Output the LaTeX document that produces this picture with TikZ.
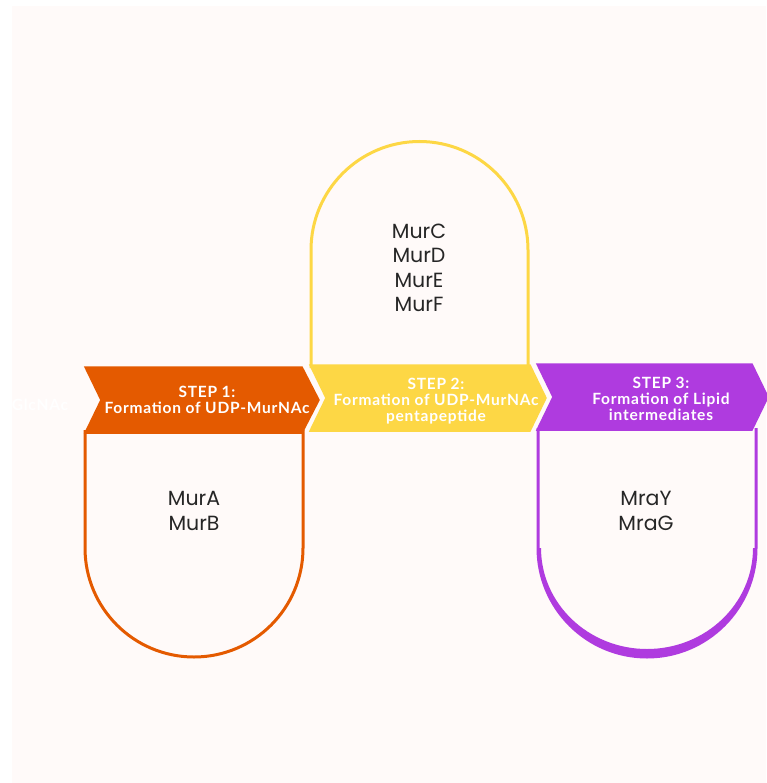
\documentclass[tikz,border=0pt]{standalone}
\usepackage{fontspec}
\usepackage{tikz}
\usetikzlibrary{positioning}
\usepackage{xcolor}
\newfontfamily\stepfont{Lato}[BoldFont={* Bold}, LetterSpace=5]
\newfontfamily\enzfont{Poppins}
\definecolor{bgpink}{HTML}{FFFAF9}
\definecolor{orangeA}{HTML}{E45A00}
\definecolor{yellowA}{HTML}{FDD745}
\definecolor{purpleA}{HTML}{AF3BDF}

\begin{document}
\begin{tikzpicture}[x=1pt, y=-1pt,
		chev/.style={draw=white, line width=1.5pt},
		steptext/.style={text=white, font=\stepfont\bfseries\fontsize{15.5}{16}\selectfont, align=center, inner sep=0pt},
		enztext/.style={text=black!85, font=\enzfont\fontsize{20.5}{24.5}\selectfont, align=center, inner sep=0pt}]
		\useasboundingbox (0,0) rectangle (766,783);
		\fill[bgpink] (12,6) rectangle (766,783);
		% domes
		\draw[yellowA, line width=3pt] (311,368) -- (311,250) arc[start angle=180, end angle=360, radius=108.5] -- (528,368);
		\draw[orangeA, line width=3pt] (85,430) -- (85,548) arc[start angle=180, end angle=0, radius=109] -- (303,430);
		\draw[purpleA, line width=3pt] (538,428) -- (538,548) arc[start angle=180, end angle=0, radius=109] -- (756,428);
		\fill[purpleA] (538,548) arc[start angle=180, end angle=0, radius=109]
			-- (753,548) arc[start angle=0, end angle=180, x radius=106, y radius=101] -- cycle;
		% chevrons
		\fill[chev, orangeA] (85,367) -- (302,367) -- (319,400) -- (302,433) -- (85,433) -- (101,400) -- cycle;
		\fill[chev, yellowA] (310,365) -- (530,365) -- (546,398) -- (530,431) -- (310,431) -- (326,398) -- cycle;
		\fill[chev, purpleA] (537,364) -- (752,364) -- (768,397) -- (752,430) -- (537,430) -- (553,397) -- cycle;
		\node[steptext, text=white] (glc) at (40,405) {GlcNAc};
		\node[steptext] (step1) at (207,400) {STEP 1:\\Formation of UDP-MurNAc};
		\node[steptext] (step2) at (436,401) {STEP 2:\\Formation of UDP-MurNAc\\pentapeptide};
		\node[steptext] (step3) at (661,399) {STEP 3:\\Formation of Lipid\\intermediates};
		\node[enztext] (murcf) at (419,268) {MurC\\MurD\\MurE\\MurF};
		\node[enztext] (murab) at (194,511) {MurA\\MurB};
		\node[enztext] (mra) at (646,511) {MraY\\MraG};
	\end{tikzpicture}
\end{document}
